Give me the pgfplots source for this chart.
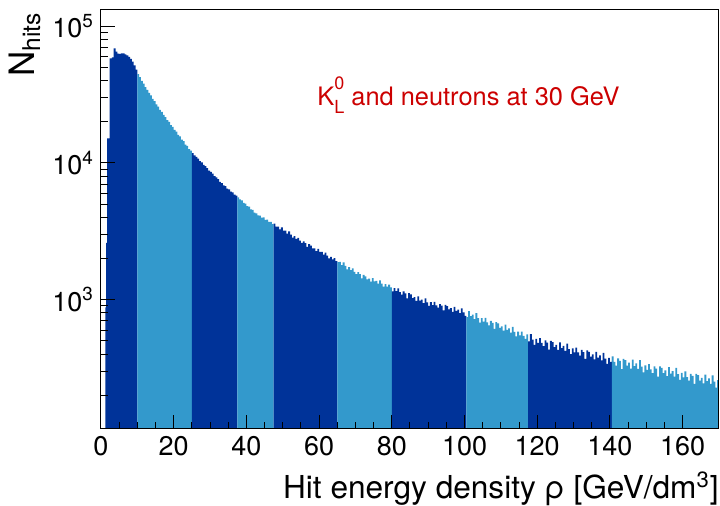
\documentclass[border=0pt]{standalone}
\usepackage{fontspec}
\setmainfont{TeX Gyre Heros}
\usepackage{pgfplots}
\usepackage{pgfplotstable}
\pgfplotsset{compat=1.18}

\definecolor{bandDark}{RGB}{0,51,153}
\definecolor{bandLight}{RGB}{51,153,204}
\definecolor{labelRed}{RGB}{204,0,0}

% Hit energy density histogram, split into colour bands.
% Each row: left bin edge, entries; the last row of a band is its right edge.
\pgfplotstableread{
x y
1.2 880
1.4 2600
1.7 15100
2.4 58000
3.0 59000
3.5 68600
4.0 65000
4.5 62800
5.0 62500
5.5 63200
6.0 63000
6.5 62000
7.0 61000
7.5 59500
8.0 57500
8.5 55000
9.0 51500
9.5 48000
10.0 44500
}\bandA
\pgfplotstableread{
x y
10.0 44500
10.5 42300
11.0 39800
11.5 37900
12.0 35700
12.5 34200
13.0 32400
13.5 31100
14.0 29400
14.5 28300
15.0 26800
15.5 25800
16.0 24400
16.5 23600
17.0 22400
17.5 21600
18.0 20500
18.5 19900
19.0 18900
19.5 18300
20.0 17400
20.5 16900
21.0 16000
21.5 15600
22.0 14800
22.5 14400
23.0 13600
23.5 13300
24.0 12600
24.5 12300
25.0 11800
}\bandB
\pgfplotstableread{
x y
25.0 11800
25.5 11350
26.0 11050
26.5 10750
27.0 10300
27.5 10080
28.0 9680
28.5 9460
29.0 9150
29.5 8780
30.0 8600
30.5 8340
31.0 7990
31.5 7830
32.0 7590
32.5 7250
33.0 7110
33.5 6850
34.0 6760
34.5 6490
35.0 6410
35.5 6150
36.0 6080
36.5 5850
37.0 5760
37.5 5600
}\bandC
\pgfplotstableread{
x y
37.5 5600
38.0 5400
38.5 5320
39.0 5100
39.5 5040
40.0 4830
40.5 4780
41.0 4580
41.5 4530
42.0 4330
42.5 4280
43.0 4140
43.5 4120
44.0 3980
44.5 3990
45.0 3830
45.5 3840
46.0 3700
46.5 3700
47.0 3570
47.5 3596
}\bandD
\pgfplotstableread{
x y
47.5 3596
48.0 3425
48.5 3424
49.0 3262
49.5 3371
50.0 3195
50.5 3193
51.0 3041
51.5 3150
52.0 2985
52.5 2843
53.0 2912
53.5 2784
54.0 2833
54.5 2700
55.0 2603
55.5 2665
56.0 2585
56.5 2436
57.0 2545
57.5 2487
58.0 2373
58.5 2375
59.0 2267
59.5 2353
60.0 2232
60.5 2234
61.0 2132
61.5 2211
62.0 2099
62.5 2002
63.0 2053
63.5 1971
64.0 2009
64.5 1917
65.0 1883
}\bandE
\pgfplotstableread{
x y
65.0 1883
65.5 1891
66.0 1788
66.5 1877
67.0 1764
67.5 1668
68.0 1728
68.5 1646
69.0 1690
69.5 1600
70.0 1535
70.5 1589
71.0 1537
71.5 1431
72.0 1516
72.5 1478
73.0 1408
73.5 1425
74.0 1356
74.5 1435
75.0 1358
75.5 1373
76.0 1308
76.5 1383
77.0 1309
77.5 1245
78.0 1299
78.5 1247
79.0 1290
79.5 1229
80.0 1148
}\bandF
\pgfplotstableread{
x y
80.0 1148
80.5 1216
81.0 1153
81.5 1208
82.0 1136
82.5 1087
83.0 1152
83.5 1114
84.0 1024
84.5 1118
85.0 1093
85.5 1026
86.0 1044
86.5 980
87.0 1058
87.5 985
88.0 1002
88.5 944
89.0 1023
89.5 957
90.0 902
90.5 960
91.0 914
91.5 962
92.0 908
92.5 874
93.0 929
93.5 903
94.0 834
94.5 915
95.0 898
95.5 848
96.0 866
96.5 816
97.0 885
97.5 828
98.0 846
98.5 797
99.0 864
99.5 808
100.0 761
100.5 746
}\bandG
\pgfplotstableread{
x y
100.5 746
101.0 825
101.5 757
102.0 778
102.5 722
103.0 797
103.5 733
104.0 679
104.5 734
105.0 690
105.5 735
106.0 683
106.5 650
107.0 701
107.5 676
108.0 611
108.5 686
109.0 670
109.5 622
110.0 639
110.5 593
111.0 656
111.5 602
112.0 618
112.5 574
113.0 633
113.5 582
114.0 539
114.5 583
115.0 548
115.5 584
116.0 543
116.5 516
117.0 557
117.5 496
}\bandH
\pgfplotstableread{
x y
117.5 496
118.0 561
118.5 511
119.0 468
119.5 517
120.0 483
120.5 524
121.0 483
121.5 458
122.0 505
122.5 486
123.0 432
123.5 499
124.0 489
124.5 450
125.0 467
125.5 429
126.0 487
126.5 442
127.0 459
127.5 422
128.0 477
128.5 435
129.0 400
129.5 441
130.0 412
130.5 446
131.0 412
131.5 390
132.0 430
132.5 414
133.0 369
133.5 426
134.0 416
134.5 383
135.0 398
135.5 366
136.0 415
136.5 377
137.0 391
137.5 360
138.0 408
138.5 371
139.0 340
139.5 376
140.0 351
140.5 385
}\bandI
\pgfplotstableread{
x y
140.5 385
141.0 351
141.5 330
142.0 372
142.5 357
143.0 311
143.5 370
144.0 362
144.5 330
145.0 346
145.5 313
146.0 364
146.5 327
147.0 343
147.5 312
148.0 361
148.5 324
149.0 294
149.5 331
150.0 307
150.5 338
151.0 309
151.5 290
152.0 326
152.5 313
153.0 274
153.5 325
154.0 318
154.5 290
155.0 304
155.5 276
156.0 321
156.5 288
157.0 301
157.5 274
158.0 317
158.5 286
159.0 259
159.5 292
160.0 270
160.5 299
161.0 272
161.5 256
162.0 287
162.5 277
163.0 242
163.5 287
164.0 281
164.5 256
165.0 268
165.5 244
166.0 283
166.5 254
167.0 266
167.5 242
168.0 280
168.5 252
169.0 228
169.5 258
170.0 258
}\bandJ

\begin{document}
\begin{tikzpicture}
\path[use as bounding box] (0,0) rectangle (360pt,253pt);
\begin{axis}[
  at={(50.5pt,38.5pt)}, anchor=south west,
  scale only axis, width=309pt, height=209.5pt,
  xmin=0, xmax=170,
  ymode=log, ymin=113.5, ymax=1.31e5,
  xtick={0,20,...,160}, minor x tick num=3,
  ytick={1000,10000,100000},
  yticklabels={10\textsuperscript{3},10\textsuperscript{4},10\textsuperscript{5}},
  minor ytick={200,300,400,500,600,700,800,900,2000,3000,4000,5000,6000,7000,8000,9000,20000,30000,40000,50000,60000,70000,80000,90000},
  tick pos=left, tick align=inside,
  major tick length=7pt, minor tick length=3.5pt,
  every tick/.style={black, line width=0.5pt},
  axis line style={line width=0.5pt},
  axis on top,
  /pgf/number format/assume math mode=true,
  tick label style={font=\fontsize{13.5}{16}\selectfont},
  xlabel={Hit energy density ρ [GeV/dm\textsuperscript{3}]},
  xlabel style={at={(axis description cs:1,-0.165)}, anchor=base east, inner sep=0pt,
    font=\fontsize{15.8}{18}\selectfont},
  ylabel={N\textsubscript{hits}},
  ylabel style={at={(axis description cs:-0.108,0.995)}, anchor=base east, inner sep=0pt,
    font=\fontsize{17.5}{20}\selectfont},
  every axis plot/.style={const plot mark left, draw=none, mark=none},
]
\addplot[fill=bandDark]  table {\bandA} \closedcycle;
\addplot[fill=bandLight] table {\bandB} \closedcycle;
\addplot[fill=bandDark]  table {\bandC} \closedcycle;
\addplot[fill=bandLight] table {\bandD} \closedcycle;
\addplot[fill=bandDark]  table {\bandE} \closedcycle;
\addplot[fill=bandLight] table {\bandF} \closedcycle;
\addplot[fill=bandDark]  table {\bandG} \closedcycle;
\addplot[fill=bandLight] table {\bandH} \closedcycle;
\addplot[fill=bandDark]  table {\bandI} \closedcycle;
\addplot[fill=bandLight] table {\bandJ} \closedcycle;
\node[anchor=base west, text=labelRed, font=\fontsize{12.7}{15}\selectfont, inner sep=0pt]
  at (axis description cs:0.3495,0.773)
  {K\rlap{\raisebox{0.62em}{\fontsize{9}{10}\selectfont 0}}\raisebox{-0.32em}{\fontsize{9}{10}\selectfont L} and neutrons at 30 GeV};
\end{axis}
\end{tikzpicture}
\end{document}
